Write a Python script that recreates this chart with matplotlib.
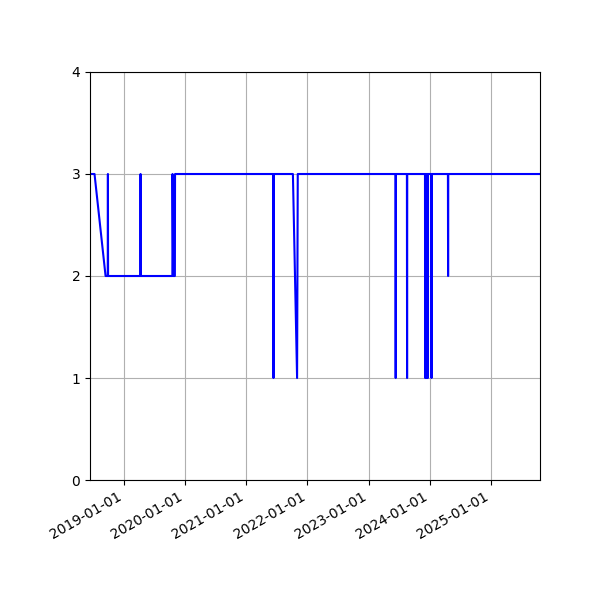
import matplotlib
matplotlib.use("Agg")
import matplotlib.pyplot as plt
import matplotlib.dates as mdates
import pandas as pd

dates = [
    "2018-06-12", "2018-07-09", "2018-09-13",
    "2018-09-26", "2018-09-27", "2018-09-28",
    "2019-04-09", "2019-04-10", "2019-04-11",
    "2019-10-17", "2019-10-18", "2019-10-22", "2019-11-01", "2019-11-02",
    "2021-06-11", "2021-06-12", "2021-06-13",
    "2021-10-06", "2021-10-31", "2021-11-04",
    "2023-06-11", "2023-06-12", "2023-06-13",
    "2023-08-18", "2023-08-19", "2023-08-20",
    "2023-12-04", "2023-12-05", "2023-12-06",
    "2023-12-12", "2023-12-13", "2023-12-14",
    "2023-12-20", "2023-12-21", "2023-12-22",
    "2024-01-11", "2024-01-12", "2024-01-13",
    "2024-04-19", "2024-04-20", "2024-04-21",
    "2025-10-21",
]
values = [
    3, 3, 2,
    2, 3, 2,
    2, 3, 2,
    2, 3, 2, 2, 3,
    3, 1, 3,
    3, 1, 3,
    3, 1, 3,
    3, 1, 3,
    3, 1, 3,
    3, 1, 3,
    3, 1, 3,
    3, 1, 3,
    3, 2, 3,
    3,
]

x = pd.to_datetime(dates)

fig = plt.figure(figsize=(6, 6), dpi=100)
ax = fig.add_axes([0.15, 0.2, 0.75, 0.68])
ax.plot(x, values, color="blue", linewidth=1.5)
ax.set_xlim(x[0], x[-1])
ax.set_ylim(0, 4)
ax.set_yticks([0, 1, 2, 3, 4])
ax.xaxis.set_major_locator(mdates.YearLocator())
ax.xaxis.set_major_formatter(mdates.DateFormatter("%Y-%m-%d"))
ax.grid(True)
for lbl in ax.get_xticklabels():
    lbl.set_rotation(30)
    lbl.set_ha("right")
fig.savefig("out.png", dpi=100)
